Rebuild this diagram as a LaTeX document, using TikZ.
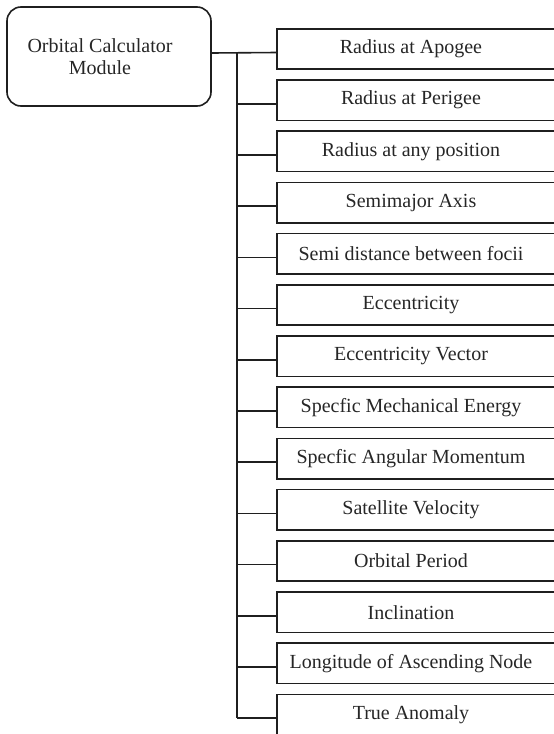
\documentclass[tikz,border=0pt]{standalone}
\usepackage{fontspec}
\setmainfont{Liberation Serif}
\begin{document}
\begin{tikzpicture}[x=1pt,y=-1pt,
  line/.style={line width=1.6pt, draw=black!88},
  txt/.style={font=\fontsize{20}{22}\selectfont, text=black!85},
  rootbox/.style={txt, line, rounded corners=14pt, minimum width=204pt, minimum height=99pt, inner sep=0pt, align=center},
  item/.style={txt, minimum width=268pt, minimum height=40pt, inner sep=0pt}]
\clip (0,0) rectangle (554,734);
\node[rootbox,draw] (root) at (109,56.5) {Orbital Calculator\hspace*{18pt}\\Module\hspace*{18pt}};
\foreach \t [count=\i from 0] in {Radius at Apogee,Radius at Perigee,Radius at any position,Semimajor Axis,Semi distance between focii,Eccentricity,Eccentricity Vector,Specfic Mechanical Energy,Specfic Angular Momentum,Satellite Velocity,Orbital Period,Inclination,Longitude of Ascending Node,True Anomaly}{
  \node[item] (b\i) at (411,49+51.2*\i) {\t};
  \draw[line] ([xshift=300pt]b\i.north west) -- (b\i.north west) -- (b\i.south west) -- ([xshift=300pt]b\i.south west);
  \draw[line] (237,52.5+51.2*\i) -- ([yshift=-3.5pt]b\i.west);
}
\draw[line] ([yshift=3.5pt]root.east) -- ([yshift=-3.5pt]b0.west);
\draw[line] (237,52.5) -- (237,718.1);
\end{tikzpicture}
\end{document}
